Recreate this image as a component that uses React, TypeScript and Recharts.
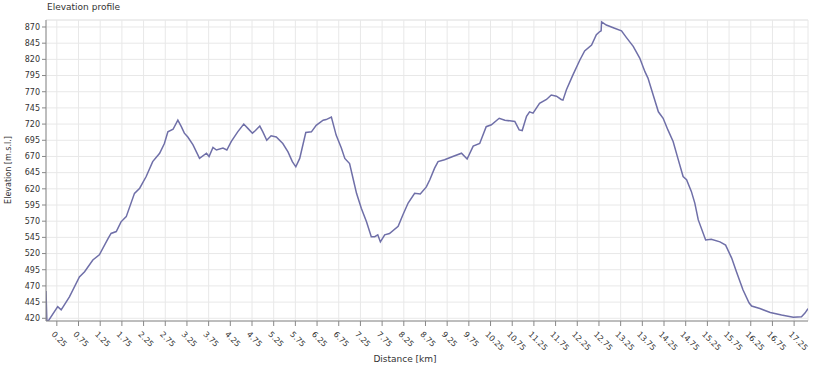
import React from 'react'
import {
  LineChart,
  Line,
  XAxis,
  YAxis,
  CartesianGrid,
  ReferenceLine,
} from 'recharts'

const distanceKm = [
  0, 0.02, 0.065, 0.27, 0.35, 0.54, 0.77, 0.89, 1.08, 1.23, 1.43, 1.5, 1.62, 1.73, 1.85,
  2.04, 2.16, 2.31, 2.46, 2.62, 2.73, 2.81, 2.93, 3.04, 3.12, 3.19, 3.27, 3.39, 3.54, 3.7,
  3.76, 3.85, 3.93, 4.08, 4.17, 4.27, 4.42, 4.56, 4.66, 4.76, 4.83, 4.93, 5.0, 5.09, 5.19,
  5.31, 5.46, 5.58, 5.68, 5.76, 5.85, 5.99, 6.12, 6.23, 6.39, 6.46, 6.58, 6.69, 6.81, 6.89,
  7.0, 7.08, 7.16, 7.27, 7.39, 7.5, 7.58, 7.65, 7.71, 7.81, 7.92, 8.12, 8.23, 8.35, 8.5,
  8.63, 8.77, 8.85, 8.96, 9.04, 9.19, 9.38, 9.58, 9.71, 9.85, 10.0, 10.15, 10.27, 10.45,
  10.58, 10.81, 10.91, 10.98, 11.08, 11.15, 11.23, 11.38, 11.54, 11.65, 11.77, 11.88, 11.92,
  12.0, 12.15, 12.31, 12.42, 12.58, 12.69, 12.77, 12.8, 12.81, 12.92, 13.11, 13.27, 13.38,
  13.54, 13.69, 13.81, 13.88, 14.0, 14.12, 14.23, 14.34, 14.46, 14.57, 14.69, 14.77, 14.88,
  14.96, 15.04, 15.21, 15.34, 15.54, 15.67, 15.81, 15.92, 16.07, 16.21, 16.27, 16.46, 16.7,
  16.96, 17.23, 17.42, 17.5, 17.57,
]

const elevationM = [
  462, 416, 417, 438, 433, 453, 484, 492, 510, 518, 543, 551, 554, 569, 577,
  613, 621, 639, 662, 675, 690, 708, 712, 726, 716, 706, 700, 688, 667, 675,
  670, 684, 680, 683, 680, 693, 708, 720, 713, 706, 710, 717, 708, 695, 702,
  700, 690, 677, 662, 654, 667, 707, 708, 718, 726, 727, 731, 703, 683, 667,
  659, 636, 613, 590, 569, 546, 546, 549, 538, 549, 551, 562, 580, 598, 613,
  612, 623, 634, 652, 662, 665, 670, 675, 666, 686, 690, 716, 719, 729,
  726, 724, 711, 710, 732, 739, 737, 752, 758, 765, 763, 758, 757,
  773, 796, 819, 833, 842, 858, 863, 864, 878, 873, 868, 864, 854,
  840, 822, 801, 791, 765, 739, 729, 711, 693, 667, 639, 634, 616,
  598, 572, 541, 542, 538, 533, 513, 492, 464, 444, 439, 435, 429,
  425, 421.5, 422.5, 428, 435,
]

const xTicks = [
  0.25, 0.75, 1.25, 1.75, 2.25, 2.75, 3.25, 3.75, 4.25, 4.75, 5.25, 5.75, 6.25, 6.75, 7.25,
  7.75, 8.25, 8.75, 9.25, 9.75, 10.25, 10.75, 11.25, 11.75, 12.25, 12.75, 13.25, 13.75,
  14.25, 14.75, 15.25, 15.75, 16.25, 16.75, 17.25,
]

const yTicks = [
  420, 445, 470, 495, 520, 545, 570, 595, 620, 645, 670, 695, 720, 745, 770, 795, 820, 845, 870,
]

const data = distanceKm.map((d, i) => ({ d, e: elevationM[i] }))

const FONT = '"DejaVu Sans", Verdana, sans-serif'
const Y_MAX = 880.8

const XTick = (props: any) => {
  const { x, y, payload } = props
  return (
    <g transform={`translate(${x - 3},${y + 4})`}>
      <text
        x={0}
        y={0}
        dy={4}
        transform="rotate(45)"
        textAnchor="start"
        fontSize={8}
        fontFamily={FONT}
        fill="#333"
      >
        {payload.value.toFixed(2)}
      </text>
    </g>
  )
}

export default function App() {
  return (
    <div style={{ position: 'absolute', left: 0, top: 0, width: 823, height: 375, background: '#fff' }}>
      <LineChart
        width={823}
        height={375}
        data={data}
        margin={{ top: 20, right: 15, left: 0, bottom: 0 }}
      >
        <CartesianGrid stroke="#e8e8e8" />
        <ReferenceLine y={Y_MAX} stroke="#e8e8e8" />
        <XAxis
          dataKey="d"
          type="number"
          domain={[0, 17.57]}
          ticks={xTicks}
          interval={0}
          height={54}
          tick={<XTick />}
          tickSize={5}
          stroke="#888"
          allowDataOverflow
        />
        <YAxis
          type="number"
          domain={[415.8, Y_MAX]}
          ticks={yTicks}
          interval={0}
          width={46}
          tickSize={4}
          stroke="#888"
          tick={{ fontSize: 8, fill: '#333', fontFamily: FONT }}
          allowDataOverflow
        />
        <Line
          dataKey="e"
          type="linear"
          stroke="#6f6fa8"
          strokeWidth={1.5}
          dot={false}
          isAnimationActive={false}
        />
      </LineChart>
      <svg
        width={823}
        height={375}
        style={{ position: 'absolute', left: 0, top: 0, pointerEvents: 'none' }}
      >
        <text x={47} y={10} fontSize={9} fontFamily={FONT} fill="#333">
          Elevation profile
        </text>
        <text
          x={0}
          y={0}
          transform="translate(11,170) rotate(-90)"
          textAnchor="middle"
          fontSize={8}
          fontFamily={FONT}
          fill="#333"
        >
          Elevation [m.s.l.]
        </text>
        <text x={405} y={362} textAnchor="middle" fontSize={9} fontFamily={FONT} fill="#333">
          Distance [km]
        </text>
      </svg>
    </div>
  )
}
